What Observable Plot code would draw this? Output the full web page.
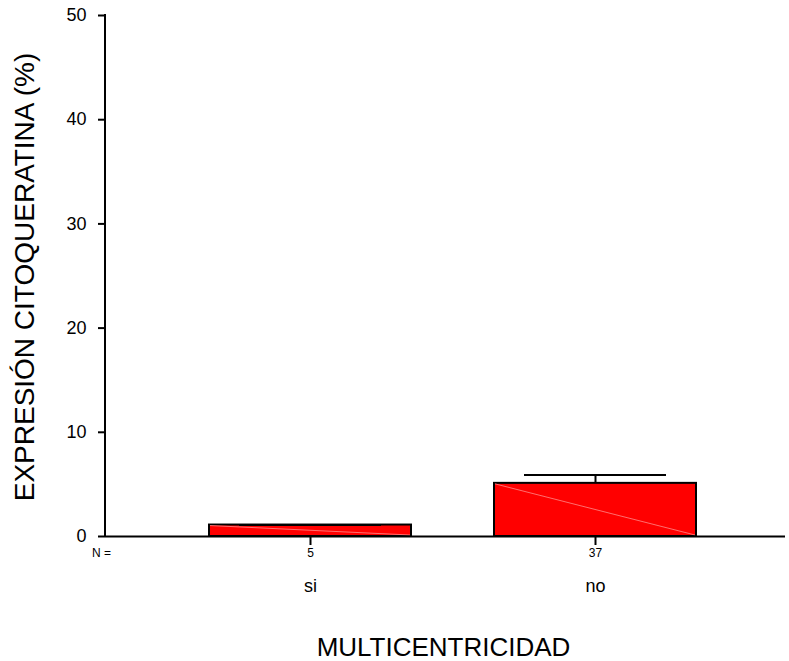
<!DOCTYPE html>
<html>
<head>
<meta charset="utf-8">
<script src="https://cdn.jsdelivr.net/npm/d3@7"></script>
<script src="https://cdn.jsdelivr.net/npm/@observablehq/plot@0.6"></script>
<style>
  html, body { margin: 0; padding: 0; background: #fff; }
  #chart svg { display: block; }
</style>
</head>
<body>
<div id="chart"></div>
<script>
// Groups, case counts, means and upper error limits
const categories = ["si", "no"];
const nCounts = [5, 37];
const means = [1.1, 5.1];
const upperLimits = [1.1, 5.9];
const yTicks = [0, 10, 20, 30, 40, 50];

const yTitle = "EXPRESIÓN CITOQUERATINA (%)";
const xTitle = "MULTICENTRICIDAD";

const rows = categories.map((c, i) => ({cat: c, n: nCounts[i], mean: means[i], upper: upperLimits[i]}));
const nByCat = new Map(rows.map(d => [d.cat, String(d.n)]));

const font = "'Liberation Sans', Arial, Helvetica, sans-serif";

// Faint diagonal drawn across each bar, from its top-left to bottom-right corner
function barDiagonals(index, scales) {
  const x = scales.x, y = scales.y;
  const bw = typeof x.bandwidth === "function" ? x.bandwidth() : x.bandwidth;
  const g = d3.create("svg:g");
  for (const d of rows) {
    const x0 = x(d.cat);
    g.append("line")
      .attr("x1", x0 + 1).attr("y1", y(d.mean) + 1)
      .attr("x2", x0 + bw - 1).attr("y2", y(0) - 1)
      .attr("stroke", "#ff7a7a")
      .attr("stroke-width", 0.9);
  }
  return g.node();
}

// Vertical axis line along the left edge of the frame
function yAxisLine(index, scales, values, dimensions) {
  const y = scales.y;
  const x0 = dimensions.marginLeft;
  return d3.create("svg:line")
    .attr("x1", x0).attr("x2", x0)
    .attr("y1", y(yTicks[0]) + 1).attr("y2", y(yTicks[yTicks.length - 1]) - 1)
    .attr("stroke", "#000")
    .attr("stroke-width", 2)
    .node();
}

const chart = Plot.plot({
  width: 789,
  height: 661,
  marginLeft: 105,
  marginRight: 4,
  marginTop: 15,
  marginBottom: 125,
  style: {fontFamily: font, background: "#fff", color: "#000"},
  x: {domain: categories, range: [168, 738], paddingInner: 0.29, paddingOuter: 0.145},
  y: {domain: [0, 50]},
  marks: [
    Plot.barY(rows, {x: "cat", y: "mean", fill: "#ff0000", stroke: "#000", strokeWidth: 2}),
    barDiagonals,
    Plot.ruleX(rows, {x: "cat", y1: "mean", y2: "upper", stroke: "#000", strokeWidth: 2}),
    Plot.tickY(rows, {x: "cat", y: "upper", stroke: "#000", strokeWidth: 2, insetLeft: 30, insetRight: 30}),
    Plot.ruleY([0], {stroke: "#000", strokeWidth: 2}),
    yAxisLine,
    Plot.axisY({ticks: yTicks, tickSize: 7, tickPadding: 12, fontSize: 18, label: null, strokeWidth: 2}),
    Plot.axisX({tickSize: 9, tickPadding: 3, fontSize: 12, label: null, tickFormat: c => nByCat.get(c), strokeWidth: 2}),
    Plot.axisX({tickSize: 0, tickPadding: 43, fontSize: 18, label: null}),
    Plot.text(["N ="], {frameAnchor: "bottom-left", dx: -4, dy: 20, fontSize: 12, textAnchor: "middle"}),
    Plot.text([xTitle], {frameAnchor: "bottom", dx: -2, dy: 119, lineAnchor: "bottom", fontSize: 26, textAnchor: "middle"}),
    Plot.text([yTitle], {frameAnchor: "left", dx: -72, dy: 1, rotate: -90, lineAnchor: "bottom", fontSize: 28, textAnchor: "middle"})
  ]
});

document.getElementById("chart").append(chart);
</script>
</body>
</html>
